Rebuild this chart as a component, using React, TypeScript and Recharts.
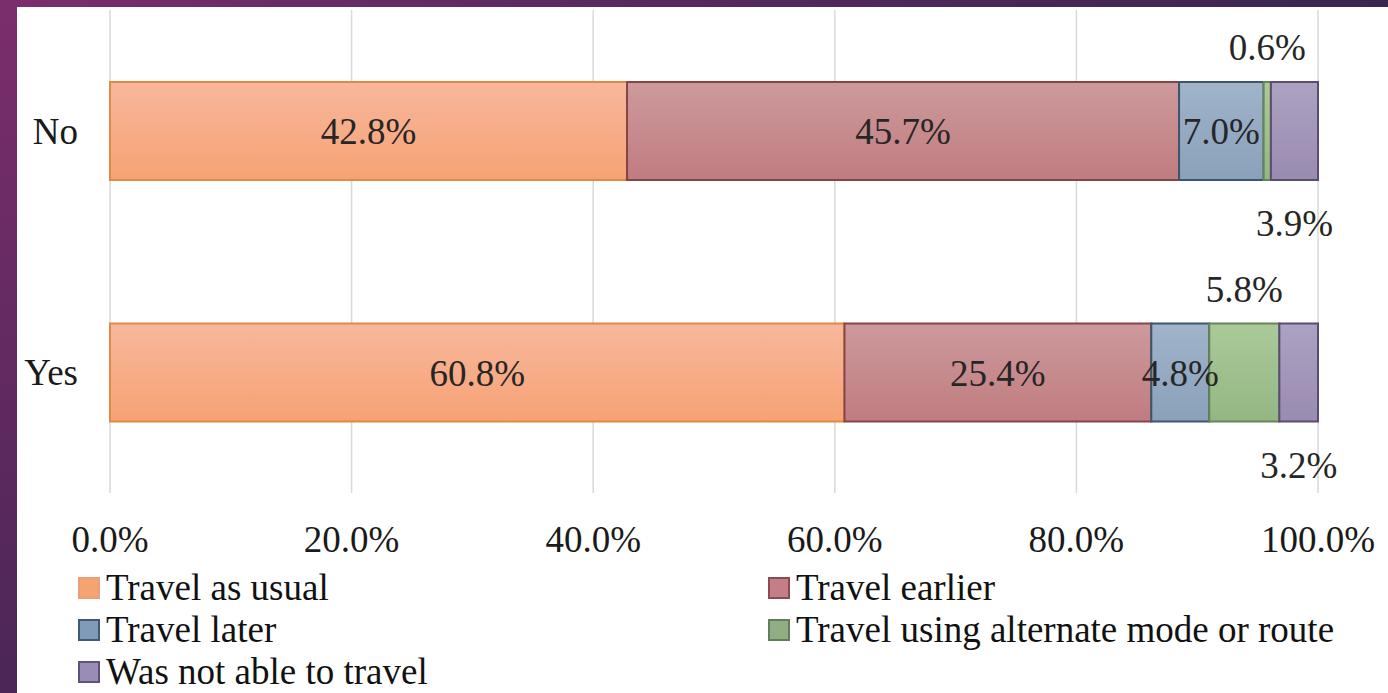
import React from 'react';
import { BarChart, Bar, XAxis, YAxis, CartesianGrid, LabelList, Legend } from 'recharts';

const categories = ['No', 'Yes'];
const travelAsUsual = [42.8, 60.8];
const travelEarlier = [45.7, 25.4];
const travelLater = [7.0, 4.8];
const travelAlternate = [0.6, 5.8];
const notAbleToTravel = [3.9, 3.2];
const seriesNames = [
  'Travel as usual',
  'Travel earlier',
  'Travel later',
  'Travel using alternate mode or route',
  'Was not able to travel',
];
const xTicks = [0, 20, 40, 60, 80, 100];

const data = categories.map((c, i) => ({
  name: c,
  usual: travelAsUsual[i],
  earlier: travelEarlier[i],
  later: travelLater[i],
  alternate: travelAlternate[i],
  notAble: notAbleToTravel[i],
}));

const FONT = "'Times New Roman', Times, Tinos, 'Liberation Serif', 'DejaVu Serif', 'Noto Serif', serif";
const FS = 37;

const series = [
  { key: 'usual', name: seriesNames[0], top: '#f8b79c', bottom: '#f6a274', stroke: '#e08a45', legend: '#f4a470', legendStroke: '#e8a07a' },
  { key: 'earlier', name: seriesNames[1], top: '#cd9a9c', bottom: '#c07c80', stroke: '#874447', legend: '#c47e86', legendStroke: '#8e4a52' },
  { key: 'later', name: seriesNames[2], top: '#a0b4ca', bottom: '#8aa1ba', stroke: '#3d566f', legend: '#7f9bb8', legendStroke: '#3f5a76' },
  { key: 'alternate', name: seriesNames[3], top: '#abca9a', bottom: '#93b782', stroke: '#66845a', legend: '#8fae82', legendStroke: '#647e5c' },
  { key: 'notAble', name: seriesNames[4], top: '#ada2c2', bottom: '#998bb1', stroke: '#5b4d70', legend: '#9a8db4', legendStroke: '#5e527a' },
];

const fmt = (v: any) => `${Number(v).toFixed(1)}%`;

const renderLegend = () => {
  const cell = (s: any) => (
    <div key={s.key} style={{ display: 'flex', alignItems: 'center', height: 42 }}>
      <span
        style={{
          display: 'inline-block',
          width: 18,
          height: 18,
          background: s.legend,
          border: `2px solid ${s.legendStroke}`,
          marginRight: 6,
        }}
      />
      <span style={{ fontFamily: FONT, fontSize: FS, color: '#111', lineHeight: '42px', whiteSpace: 'nowrap' }}>{s.name}</span>
    </div>
  );
  return (
    <div style={{ height: 134, paddingTop: 8, boxSizing: 'border-box', position: 'relative' }}>
      <div style={{ position: 'absolute', left: 78, top: 8 }}>
        {[series[0], series[2], series[4]].map(cell)}
      </div>
      <div style={{ position: 'absolute', left: 768, top: 8 }}>
        {[series[1], series[3]].map(cell)}
      </div>
    </div>
  );
};

export default function App() {
  return (
    <div style={{ position: 'fixed', left: 0, top: 0, width: 1388, height: 693, overflow: 'hidden', background: '#fff', fontFamily: FONT }}>
      <div style={{ position: 'absolute', left: 0, top: 0, width: 1388, height: 7, background: 'linear-gradient(to right, #7b2e6c, #5a2a60 40%, #3a2552)' }} />
      <div style={{ position: 'absolute', left: 0, top: 0, width: 17, height: 693, background: 'linear-gradient(to bottom, #7b2e6c, #4b2657)' }} />
      <div style={{ position: 'absolute', left: 0, top: 0 }}>
        <BarChart
          width={1388}
          height={693}
          data={data}
          layout="vertical"
          margin={{ top: 10, right: 70, bottom: 0, left: 0 }}
          style={{ fontFamily: FONT }}
        >
          <defs>
            {series.map((s) => (
              <linearGradient key={s.key} id={`g-${s.key}`} x1="0" y1="0" x2="0" y2="1">
                <stop offset="0%" stopColor={s.top} />
                <stop offset="100%" stopColor={s.bottom} />
              </linearGradient>
            ))}
          </defs>
          <CartesianGrid horizontal={false} stroke="#d9d9d9" strokeWidth={1.5} />
          <XAxis
            type="number"
            domain={[0, 100]}
            ticks={xTicks}
            tickFormatter={fmt}
            axisLine={false}
            tickLine={false}
            tickSize={0}
            tickMargin={33}
            height={66}
            interval={0}
            tick={{ fontFamily: FONT, fontSize: FS, fill: '#1a1a1a' }}
          />
          <YAxis
            type="category"
            dataKey="name"
            width={110}
            axisLine={false}
            tickLine={false}
            tickSize={0}
            tickMargin={32}
            tick={{ fontFamily: FONT, fontSize: FS, fill: '#1a1a1a' }}
          />
          <Legend verticalAlign="bottom" content={renderLegend} wrapperStyle={{ left: 0, width: 1388 }} />
          {series.map((s, idx) => (
            <Bar
              key={s.key}
              dataKey={s.key}
              name={s.name}
              stackId="a"
              barSize={98}
              fill={`url(#g-${s.key})`}
              stroke={s.stroke}
              strokeWidth={2}
              isAnimationActive={false}
            >
              <LabelList
                dataKey={s.key}
                position={idx < 3 ? 'center' : idx === 3 ? 'top' : 'bottom'}
                offset={idx === 3 ? 22 : idx === 4 ? 30 : 5}
                formatter={fmt}
                fontFamily={FONT}
                fontSize={FS}
                fill="#262626"
              />
            </Bar>
          ))}
        </BarChart>
      </div>
    </div>
  );
}
